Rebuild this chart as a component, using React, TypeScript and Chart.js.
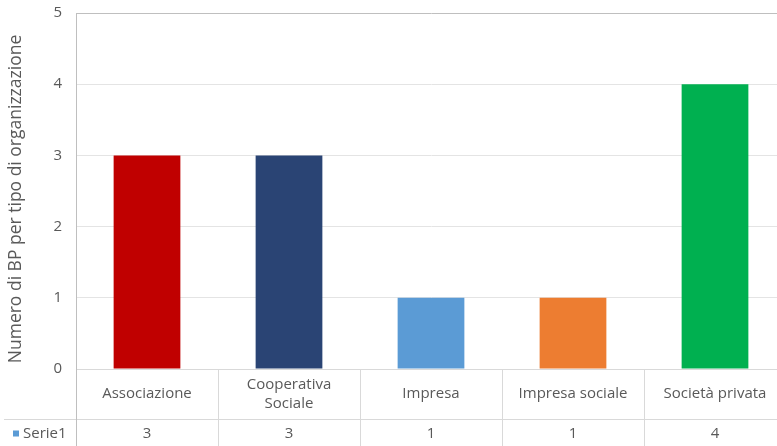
import React, { useEffect, useRef } from "react";
import { Chart, registerables } from "chart.js";

Chart.register(...registerables);

const categories = ["Associazione", "Cooperativa Sociale", "Impresa", "Impresa sociale", "Società privata"];
const headerLines = [["Associazione"], ["Cooperativa", "Sociale"], ["Impresa"], ["Impresa sociale"], ["Società privata"]];
const values = [3, 3, 1, 1, 4];
const barColors = ["#c00000", "#2a4474", "#5b9bd5", "#ed7d31", "#00b050"];
const seriesName = "Serie1";
const yTitle = "Numero di BP per tipo di organizzazione";
const yMin = 0;
const yMax = 5;
const yStep = 1;

const FONT = "'Open Sans', sans-serif";
const TEXT = "#595959";
const LINE = "#d9d9d9";

const tablePlugin = {
  id: "dataTable",
  afterDraw(chart: any) {
    const ctx = chart.ctx;
    const xs = chart.scales.x;
    const area = chart.chartArea;
    const headerH = 50;
    const rowY = area.bottom + headerH;
    const bottom = chart.height;
    const step = xs.getPixelForValue(1) - xs.getPixelForValue(0);
    ctx.save();
    ctx.strokeStyle = LINE;
    ctx.lineWidth = 1;
    ctx.beginPath();
    ctx.moveTo(area.left, area.bottom + 0.5);
    ctx.lineTo(chart.width, area.bottom + 0.5);
    ctx.moveTo(4, rowY + 0.5);
    ctx.lineTo(chart.width, rowY + 0.5);
    for (let i = 0; i <= values.length; i++) {
      const bx = Math.round(xs.getPixelForValue(i) - step / 2) + 0.5;
      ctx.moveTo(bx, area.bottom);
      ctx.lineTo(bx, bottom);
    }
    ctx.stroke();
    ctx.strokeStyle = "#bfbfbf";
    ctx.beginPath();
    ctx.moveTo(area.left + 0.5, area.bottom);
    ctx.lineTo(area.left + 0.5, bottom);
    ctx.stroke();

    ctx.fillStyle = TEXT;
    ctx.font = `15px ${FONT}`;
    ctx.textAlign = "center";
    ctx.textBaseline = "middle";
    const lh = 19;
    headerLines.forEach((lines, i) => {
      const cx = xs.getPixelForValue(i);
      const cy = area.bottom + headerH / 2;
      const y0 = cy - ((lines.length - 1) * lh) / 2;
      lines.forEach((t, j) => ctx.fillText(t, cx, y0 + j * lh));
    });
    const vy = (rowY + bottom) / 2 + 1;
    values.forEach((v, i) => {
      ctx.fillText(String(v), xs.getPixelForValue(i), vy);
    });
    ctx.textAlign = "left";
    ctx.fillStyle = "#5b9bd5";
    ctx.fillRect(13, vy - 3, 6, 6);
    ctx.fillStyle = TEXT;
    ctx.fillText(seriesName, 23, vy);

    // y-axis title
    ctx.save();
    ctx.translate(16, (area.top + area.bottom) / 2 + 8);
    ctx.rotate(-Math.PI / 2);
    ctx.textAlign = "center";
    ctx.textBaseline = "middle";
    ctx.font = `17.5px ${FONT}`;
    ctx.fillText(yTitle, 0, 0);
    ctx.restore();
    ctx.restore();
  },
};

export default function App() {
  const ref = useRef<HTMLCanvasElement>(null);
  useEffect(() => {
    if (!ref.current) return;
    const chart = new Chart(ref.current, {
      type: "bar",
      data: {
        labels: categories,
        datasets: [
          {
            label: seriesName,
            data: values,
            backgroundColor: barColors,
            borderWidth: 0,
            categoryPercentage: 1,
            barPercentage: 0.47,
          },
        ],
      },
      options: {
        responsive: false,
        animation: false,
        layout: { padding: { top: 0, bottom: 77, left: 0, right: 0 } },
        plugins: { legend: { display: false }, tooltip: { enabled: false } },
        scales: {
          x: { display: false },
          y: {
            min: yMin,
            max: yMax,
            ticks: { stepSize: yStep, color: TEXT, font: { family: FONT, size: 15 }, padding: 14 },
            grid: {
              drawTicks: false,
              color: (c: any) => (c.tick && c.tick.value === yMax ? "#bfbfbf" : "#e4e4e4"),
            },
            border: { display: true, color: "#bfbfbf" },
            title: { display: false },
            afterFit: (s: any) => {
              s.width = 76;
            },
          },
        },
      },
      plugins: [tablePlugin],
    });
    return () => chart.destroy();
  }, []);
  return (
    <div style={{ position: "absolute", left: 0, top: 0, width: 777, height: 446, overflow: "hidden", background: "#fff" }}>
      <canvas ref={ref} width={786} height={456} style={{ display: "block", marginTop: -10 }} />
    </div>
  );
}
